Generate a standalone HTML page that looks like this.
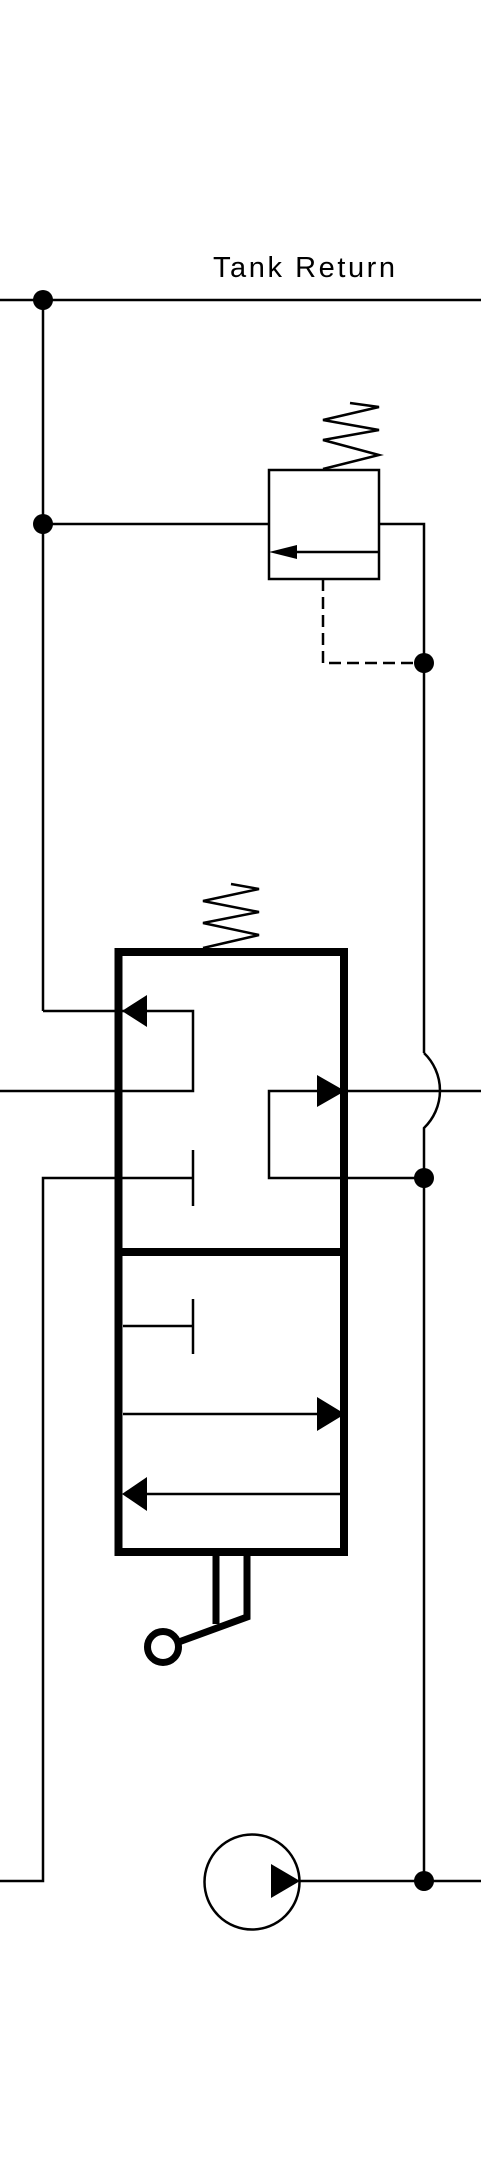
<!DOCTYPE html>
<html><head><meta charset="utf-8"><style>html,body{margin:0;padding:0;background:#fff}svg{display:block}</style></head>
<body>
<svg width="481" height="2181" viewBox="0 0 481 2181" xmlns="http://www.w3.org/2000/svg">
<g fill="none" stroke="#000" stroke-width="2.5">
  <text x="213" y="277" font-family="Liberation Sans, sans-serif" font-size="29" fill="#000" stroke="none" textLength="182">Tank  Return</text>
  <line x1="0" y1="300" x2="481" y2="300"/>
  <line x1="43" y1="300" x2="43" y2="1011"/>
  <g>
    <rect x="269" y="470" width="110" height="109"/>
    <polyline points="323,469 379,455 323,440 379,430 323,420 379,407 350,403"/>
    <line x1="43" y1="524" x2="269" y2="524"/>
    <polyline points="379,524 424,524 424,1053"/>
    <line x1="379" y1="552" x2="297" y2="552"/>
    <polygon points="269,552 297,545 297,559" fill="#000" stroke="none"/>
    <polyline points="323,579 323,663 424,663" stroke-dasharray="12,6"/>
  </g>
  <path d="M424 1053 A52 52 0 0 1 424 1128 L424 1881"/>
  <g>
    <polyline points="203,948 259,935 203,923 259,912 203,901 259,889 231,884"/>
    <polyline points="43,1011 147,1011 193,1011 193,1091 0,1091"/>
    <polygon points="122,1011 147,995 147,1027" fill="#000" stroke="none"/>
    <polyline points="317,1091 269,1091 269,1178 424,1178"/>
    <line x1="344" y1="1091" x2="481" y2="1091"/>
    <polygon points="345,1091 317,1075 317,1107" fill="#000" stroke="none"/>
    <polyline points="193,1178 43,1178 43,1881 0,1881"/>
    <line x1="193" y1="1150" x2="193" y2="1206"/>
    <line x1="123" y1="1326" x2="193" y2="1326"/>
    <line x1="193" y1="1299" x2="193" y2="1354"/>
    <line x1="123" y1="1414" x2="317" y2="1414"/>
    <polygon points="345,1414 317,1397 317,1431" fill="#000" stroke="none"/>
    <line x1="344" y1="1494" x2="147" y2="1494"/>
    <polygon points="122,1494 147,1477 147,1511" fill="#000" stroke="none"/>
    <rect x="118.5" y="952" width="225.5" height="600" stroke-width="8"/>
    <line x1="118" y1="1252" x2="344" y2="1252" stroke-width="8"/>
    <polyline points="216,1556 216,1624" stroke-width="7"/>
    <polyline points="247,1556 247,1617 176,1643" stroke-width="7"/>
    <circle cx="163" cy="1647" r="15.5" stroke-width="7"/>
  </g>
  <g>
    <circle cx="252" cy="1882" r="47.5"/>
    <polygon points="300,1881 271,1864 271,1898" fill="#000" stroke="none"/>
    <line x1="300" y1="1881" x2="481" y2="1881"/>
  </g>
  <g fill="#000" stroke="none">
    <circle cx="43" cy="300" r="10"/>
    <circle cx="43" cy="524" r="10"/>
    <circle cx="424" cy="663" r="10"/>
    <circle cx="424" cy="1178" r="10"/>
    <circle cx="424" cy="1881" r="10"/>
  </g>
</g>
</svg>
</body></html>
